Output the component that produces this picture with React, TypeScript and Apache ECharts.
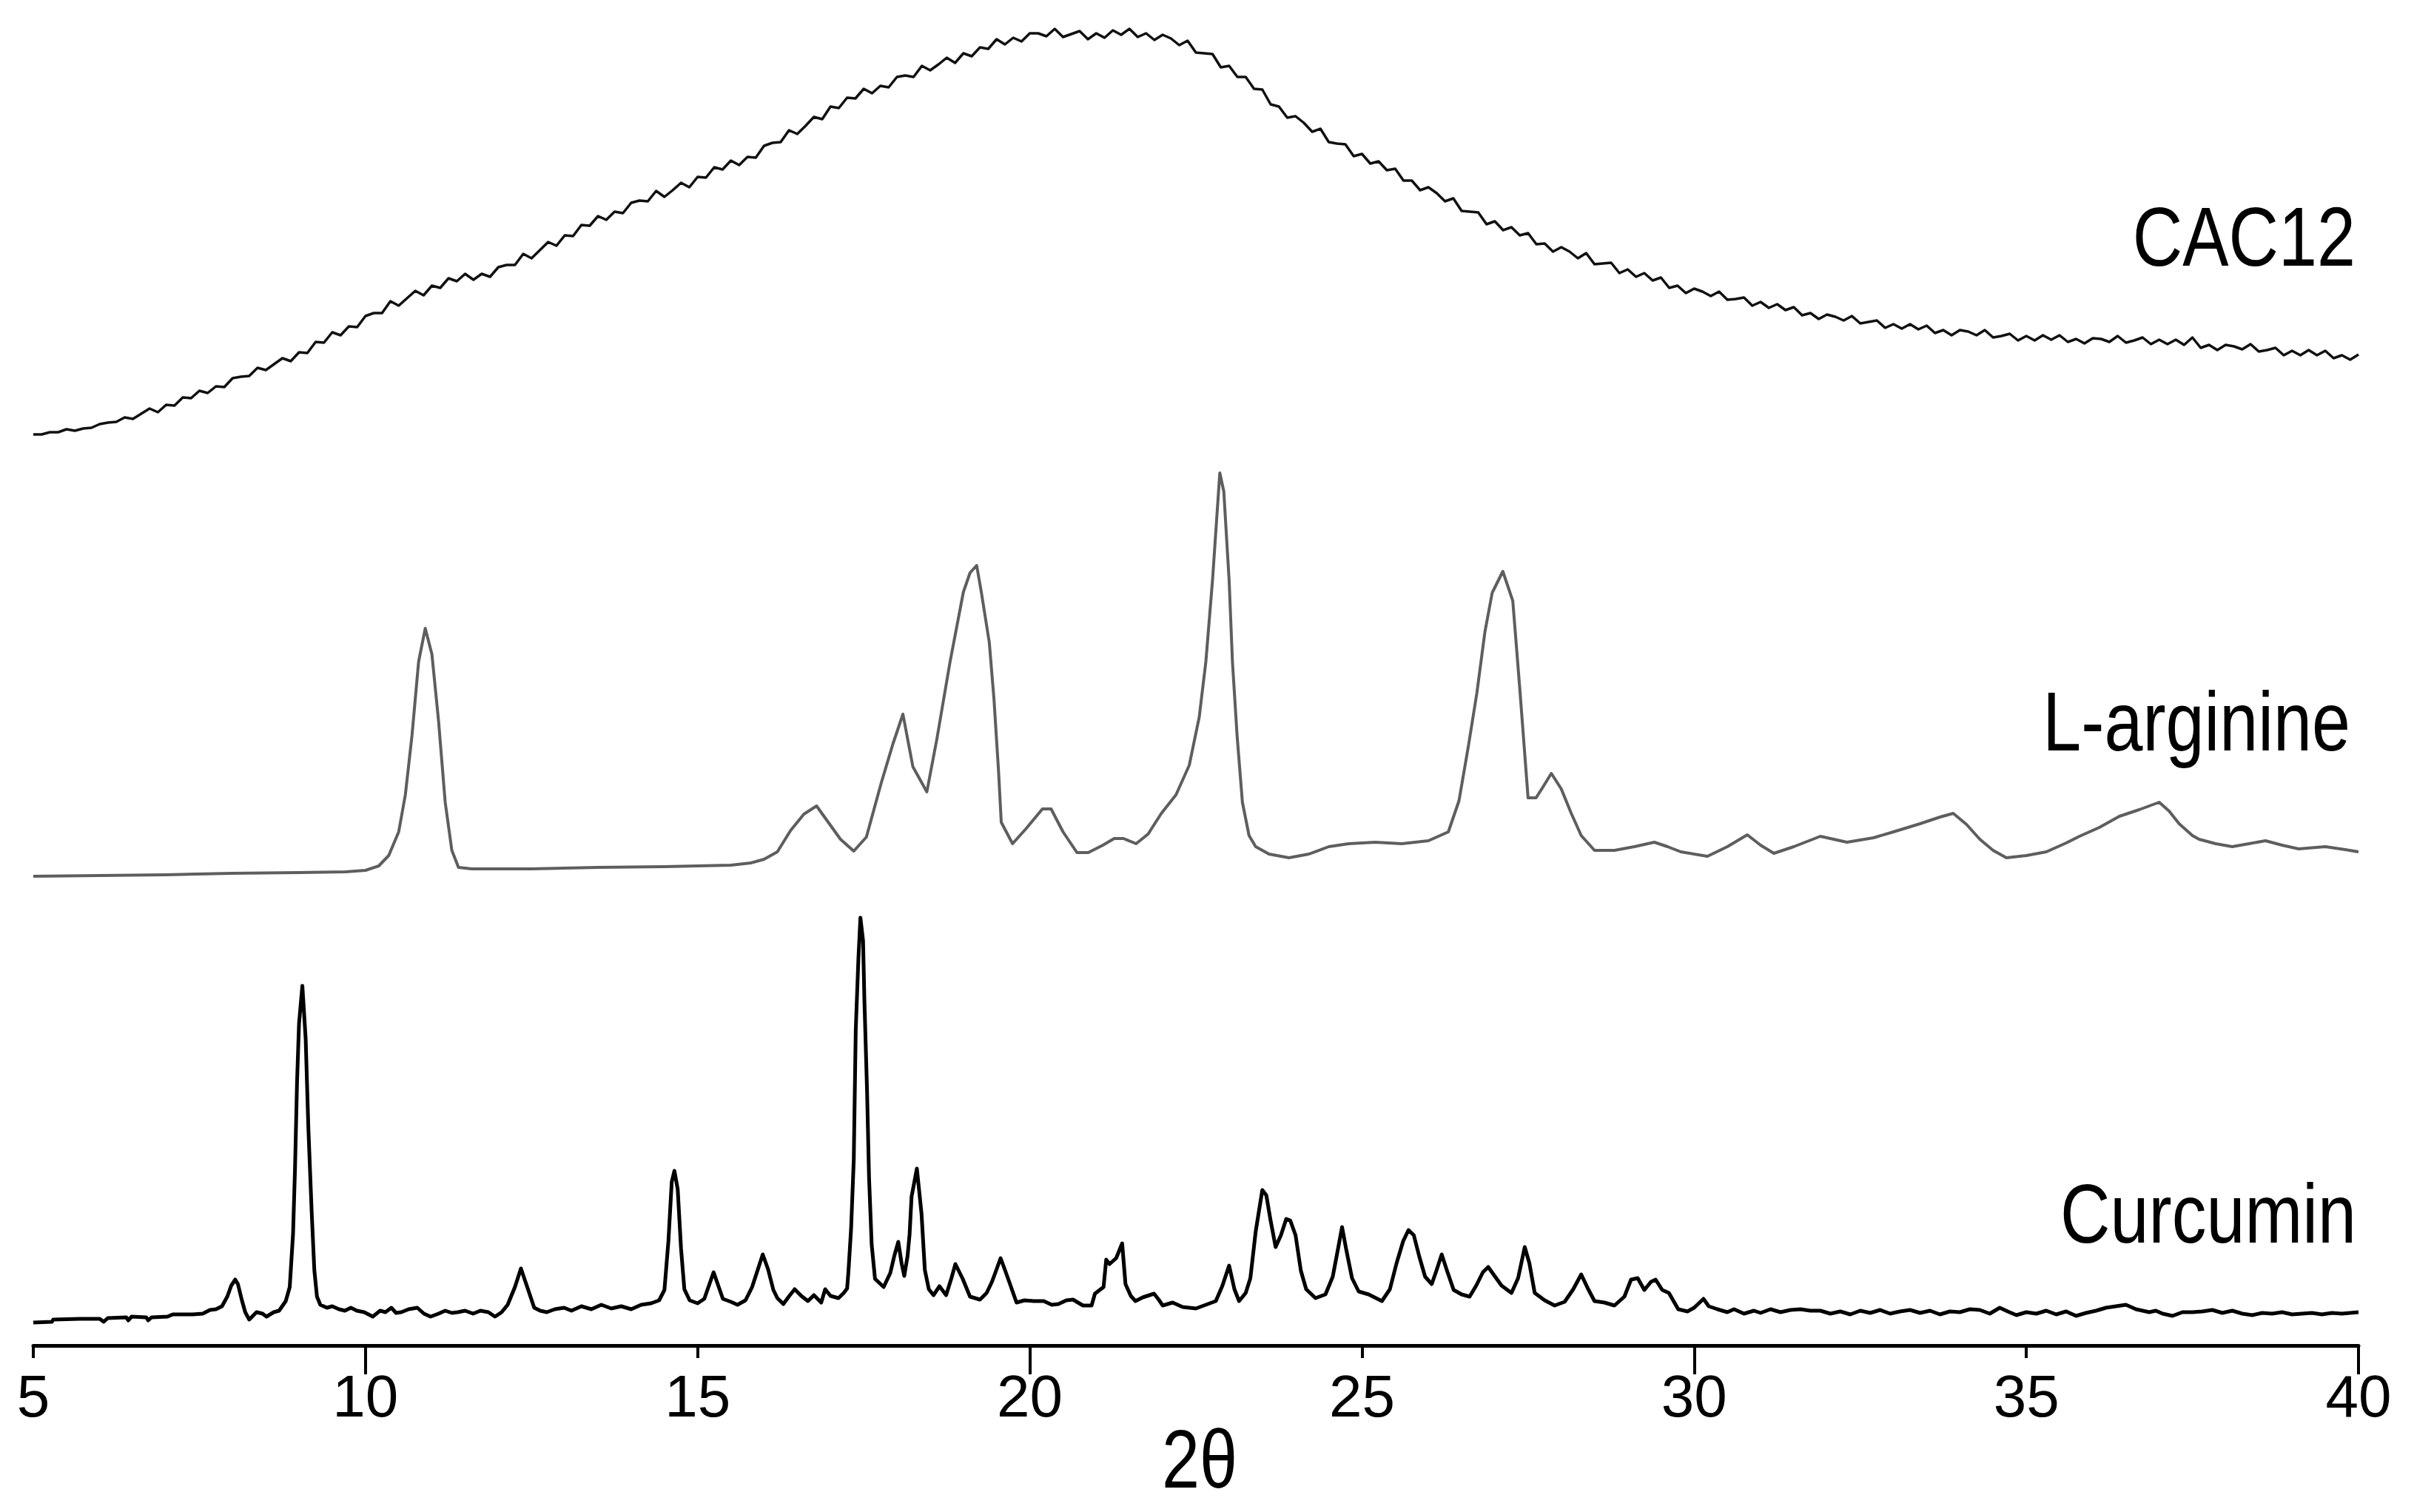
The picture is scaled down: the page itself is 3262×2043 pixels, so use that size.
import React, { useEffect, useRef } from "react";
import * as echarts from "echarts";

// 2θ (degrees) vs intensity (a.u.)
const CAC12: [number, number][] = [
  [5.0, 0], [5.125, 0], [5.25, 3], [5.375, 3], [5.5, 7], [5.625, 5], [5.75, 8], [5.875, 9],
  [6.0, 14], [6.125, 16], [6.25, 17], [6.375, 23], [6.5, 21], [6.625, 28], [6.75, 35], [6.875, 30],
  [7.0, 40], [7.125, 39], [7.25, 50], [7.375, 49], [7.5, 59], [7.625, 56], [7.75, 65], [7.875, 64],
  [8.0, 76], [8.125, 78], [8.25, 79], [8.375, 90], [8.5, 87], [8.625, 95], [8.75, 103], [8.875, 99],
  [9.0, 111], [9.125, 110], [9.25, 125], [9.375, 124], [9.5, 138], [9.625, 134], [9.75, 146], [9.875, 145],
  [10.0, 160], [10.125, 164], [10.25, 164], [10.375, 180], [10.5, 174], [10.625, 184], [10.75, 194], [10.875, 188],
  [11.0, 201], [11.125, 198], [11.25, 211], [11.375, 207], [11.5, 217], [11.625, 209], [11.75, 217], [11.875, 213],
  [12.0, 226], [12.125, 229], [12.25, 229], [12.375, 244], [12.5, 238], [12.625, 249], [12.75, 260], [12.875, 255],
  [13.0, 269], [13.125, 268], [13.25, 283], [13.375, 282], [13.5, 295], [13.625, 290], [13.75, 301], [13.875, 299],
  [14.0, 313], [14.125, 316], [14.25, 315], [14.375, 329], [14.5, 321], [14.625, 330], [14.75, 340], [14.875, 334],
  [15.0, 348], [15.125, 347], [15.25, 361], [15.375, 358], [15.5, 370], [15.625, 364], [15.75, 375], [15.875, 374],
  [16.0, 390], [16.125, 394], [16.25, 395], [16.375, 411], [16.5, 406], [16.625, 417], [16.75, 429], [16.875, 426],
  [17.0, 443], [17.125, 441], [17.25, 455], [17.375, 454], [17.5, 467], [17.625, 461], [17.75, 471], [17.875, 469],
  [18.0, 483], [18.125, 485], [18.25, 483], [18.375, 498], [18.5, 492], [18.625, 500], [18.75, 509], [18.875, 502],
  [19.0, 515], [19.125, 511], [19.25, 523], [19.375, 521], [19.5, 534], [19.625, 527], [19.75, 536], [19.875, 531],
  [20.0, 542], [20.125, 542], [20.25, 538], [20.375, 548], [20.5, 537], [20.625, 541], [20.75, 545], [20.875, 534],
  [21.0, 542], [21.125, 536], [21.25, 546], [21.375, 540], [21.5, 548], [21.625, 537], [21.75, 542], [21.875, 533],
  [22.0, 540], [22.125, 535], [22.25, 526], [22.375, 532], [22.5, 516], [22.625, 515], [22.75, 514], [22.875, 496],
  [23.0, 498], [23.125, 483], [23.25, 483], [23.375, 467], [23.5, 466], [23.625, 446], [23.75, 443], [23.875, 428],
  [24.0, 430], [24.125, 421], [24.25, 409], [24.375, 413], [24.5, 395], [24.625, 393], [24.75, 392], [24.875, 376],
  [25.0, 379], [25.125, 366], [25.25, 369], [25.375, 357], [25.5, 359], [25.625, 343], [25.75, 343], [25.875, 330],
  [26.0, 334], [26.125, 326], [26.25, 315], [26.375, 319], [26.5, 302], [26.625, 301], [26.75, 300], [26.875, 284],
  [27.0, 288], [27.125, 276], [27.25, 280], [27.375, 269], [27.5, 272], [27.625, 257], [27.75, 258], [27.875, 247],
  [28.0, 253], [28.125, 247], [28.25, 238], [28.375, 245], [28.5, 230], [28.625, 231], [28.75, 232], [28.875, 218],
  [29.0, 223], [29.125, 213], [29.25, 218], [29.375, 208], [29.5, 212], [29.625, 198], [29.75, 201], [29.875, 191],
  [30.0, 197], [30.125, 193], [30.25, 187], [30.375, 193], [30.5, 182], [30.625, 183], [30.75, 185], [30.875, 174],
  [31.0, 179], [31.125, 171], [31.25, 176], [31.375, 168], [31.5, 172], [31.625, 161], [31.75, 164], [31.875, 156],
  [32.0, 162], [32.125, 159], [32.25, 154], [32.375, 160], [32.5, 150], [32.625, 152], [32.75, 154], [32.875, 144],
  [33.0, 149], [33.125, 143], [33.25, 149], [33.375, 142], [33.5, 147], [33.625, 137], [33.75, 141], [33.875, 134],
  [34.0, 141], [34.125, 139], [34.25, 134], [34.375, 141], [34.5, 131], [34.625, 133], [34.75, 136], [34.875, 127],
  [35.0, 133], [35.125, 127], [35.25, 134], [35.375, 128], [35.5, 134], [35.625, 125], [35.75, 129], [35.875, 123],
  [36.0, 130], [36.125, 129], [36.25, 125], [36.375, 133], [36.5, 124], [36.625, 127], [36.75, 131], [36.875, 122],
  [37.0, 128], [37.125, 122], [37.25, 128], [37.375, 121], [37.5, 131], [37.625, 117], [37.75, 121], [37.875, 114],
  [38.0, 121], [38.125, 119], [38.25, 115], [38.375, 122], [38.5, 112], [38.625, 114], [38.75, 117], [38.875, 107],
  [39.0, 113], [39.125, 107], [39.25, 114], [39.375, 107], [39.5, 113], [39.625, 103], [39.75, 107], [39.875, 101],
  [40.0, 108],
];

const ARGININE: [number, number][] = [
  [5.0, 0], [6.0, 1], [7.0, 2], [8.0, 4], [9.0, 5], [9.7, 6], [10.0, 8], [10.2, 14], [10.35, 28],
  [10.5, 60], [10.6, 110], [10.7, 190], [10.8, 290], [10.9, 335], [11.0, 300], [11.1, 210], [11.2, 100],
  [11.3, 35], [11.4, 12], [11.6, 10], [12.5, 10], [13.5, 12], [14.5, 13], [15.5, 15], [15.8, 18],
  [16.0, 23], [16.2, 33], [16.4, 62], [16.6, 84], [16.79, 95], [16.95, 75], [17.15, 50], [17.35, 34],
  [17.54, 53], [17.76, 125], [17.94, 179], [18.09, 219], [18.24, 148], [18.45, 114], [18.6, 185],
  [18.8, 290], [19.0, 384], [19.1, 410], [19.2, 420], [19.27, 384], [19.39, 316], [19.46, 240],
  [19.53, 141], [19.57, 73], [19.74, 44], [19.95, 65], [20.19, 91], [20.32, 91], [20.5, 60],
  [20.71, 32], [20.88, 32], [21.1, 42], [21.27, 51], [21.41, 51], [21.6, 44], [21.78, 57], [21.98, 85],
  [22.2, 110], [22.4, 150], [22.55, 215], [22.65, 290], [22.75, 400], [22.86, 545], [22.92, 520],
  [23.0, 400], [23.05, 290], [23.12, 190], [23.2, 100], [23.3, 55], [23.4, 40], [23.6, 30], [23.9, 25],
  [24.2, 30], [24.5, 40], [24.8, 44], [25.2, 46], [25.6, 44], [26.0, 48], [26.3, 60], [26.46, 102],
  [26.6, 175], [26.73, 248], [26.85, 330], [26.96, 383], [27.12, 412], [27.27, 372], [27.38, 248],
  [27.5, 106], [27.62, 106], [27.72, 120], [27.85, 139], [28.0, 118], [28.15, 85], [28.3, 55],
  [28.5, 35], [28.8, 35], [29.1, 40], [29.4, 46], [29.6, 40], [29.8, 33], [30.2, 27], [30.5, 40],
  [30.8, 56], [31.0, 42], [31.2, 31], [31.5, 40], [31.9, 54], [32.3, 46], [32.7, 52], [33.0, 60],
  [33.4, 71], [33.7, 80], [33.9, 85], [34.1, 70], [34.3, 50], [34.5, 35], [34.7, 25], [35.0, 28],
  [35.3, 33], [35.6, 45], [35.8, 54], [36.1, 66], [36.4, 81], [36.7, 90], [37.0, 100], [37.15, 88],
  [37.3, 71], [37.5, 55], [37.6, 50], [37.85, 44], [38.1, 40], [38.35, 44], [38.6, 48], [38.85, 42],
  [39.1, 37], [39.5, 40], [39.8, 36], [40.0, 33],
];

const CURCUMIN: [number, number][] = [
  [5.0, 0], [5.28, 1], [5.3, 4], [5.7, 5], [6.0, 5], [6.06, 1], [6.12, 6], [6.4, 7], [6.43, 3],
  [6.48, 8], [6.7, 7], [6.73, 3], [6.78, 7], [7.02, 8], [7.1, 11], [7.4, 11], [7.55, 12], [7.66, 17],
  [7.75, 18], [7.84, 22], [7.92, 35], [7.98, 50], [8.04, 58], [8.08, 52], [8.14, 30], [8.19, 14],
  [8.25, 4], [8.36, 14], [8.45, 12], [8.51, 8], [8.62, 14], [8.7, 16], [8.8, 29], [8.86, 48],
  [8.91, 120], [8.94, 210], [8.97, 325], [9.0, 404], [9.05, 455], [9.1, 383], [9.14, 264], [9.19, 150],
  [9.23, 71], [9.27, 35], [9.32, 24], [9.42, 20], [9.5, 22], [9.6, 18], [9.69, 16], [9.78, 20],
  [9.87, 16], [9.98, 14], [10.11, 8], [10.22, 16], [10.3, 14], [10.39, 20], [10.46, 13], [10.54, 14],
  [10.65, 18], [10.78, 20], [10.88, 12], [10.98, 8], [11.1, 12], [11.2, 16], [11.3, 13], [11.39, 14],
  [11.5, 16], [11.62, 12], [11.73, 16], [11.85, 14], [11.95, 8], [12.05, 14], [12.14, 24], [12.25, 48],
  [12.34, 73], [12.45, 44], [12.54, 20], [12.63, 16], [12.73, 14], [12.85, 18], [12.99, 20], [13.1, 16],
  [13.25, 22], [13.4, 18], [13.55, 24], [13.7, 19], [13.85, 22], [14.0, 18], [14.15, 24], [14.3, 26],
  [14.42, 30], [14.5, 44], [14.56, 110], [14.61, 190], [14.65, 205], [14.7, 180], [14.75, 100],
  [14.8, 45], [14.88, 30], [15.0, 26], [15.1, 32], [15.17, 50], [15.24, 68], [15.31, 50], [15.38, 32],
  [15.5, 28], [15.6, 24], [15.72, 30], [15.82, 48], [15.9, 70], [15.98, 92], [16.06, 72], [16.14, 44],
  [16.2, 33], [16.29, 25], [16.38, 36], [16.46, 45], [16.56, 36], [16.66, 29], [16.75, 37], [16.86, 27],
  [16.92, 45], [17.0, 36], [17.12, 33], [17.2, 40], [17.25, 46], [17.27, 69], [17.31, 127], [17.35, 220],
  [17.38, 396], [17.42, 492], [17.45, 547], [17.49, 516], [17.51, 436], [17.55, 313], [17.58, 196],
  [17.62, 105], [17.67, 59], [17.8, 48], [17.9, 67], [17.96, 90], [18.02, 109], [18.07, 80], [18.11, 63],
  [18.16, 90], [18.19, 119], [18.22, 170], [18.3, 208], [18.37, 147], [18.42, 71], [18.48, 45],
  [18.55, 37], [18.64, 49], [18.74, 37], [18.82, 60], [18.88, 79], [18.99, 59], [19.1, 35], [19.25, 31],
  [19.35, 40], [19.43, 55], [19.5, 72], [19.56, 87], [19.63, 70], [19.69, 55], [19.8, 27], [19.92, 30],
  [20.06, 29], [20.21, 29], [20.33, 24], [20.43, 25], [20.55, 30], [20.65, 31], [20.8, 23], [20.93, 23],
  [20.98, 39], [21.11, 48], [21.15, 85], [21.2, 79], [21.3, 87], [21.39, 107], [21.44, 52], [21.52, 36],
  [21.59, 29], [21.7, 34], [21.87, 39], [21.94, 31], [22.0, 23], [22.15, 27], [22.3, 21], [22.5, 19],
  [22.65, 24], [22.8, 29], [22.9, 50], [23.0, 77], [23.08, 45], [23.15, 29], [23.25, 40], [23.32, 60],
  [23.4, 123], [23.5, 179], [23.56, 172], [23.62, 140], [23.7, 102], [23.78, 118], [23.86, 140],
  [23.92, 138], [24.0, 118], [24.08, 70], [24.16, 45], [24.3, 33], [24.45, 38], [24.56, 62], [24.64, 100],
  [24.7, 129], [24.76, 100], [24.85, 60], [24.95, 42], [25.1, 38], [25.3, 29], [25.42, 45], [25.52, 80],
  [25.62, 110], [25.7, 125], [25.78, 118], [25.86, 90], [25.95, 62], [26.05, 52], [26.12, 70], [26.2, 92],
  [26.28, 70], [26.38, 44], [26.5, 38], [26.62, 35], [26.72, 50], [26.82, 68], [26.9, 75], [26.98, 65],
  [27.1, 50], [27.25, 40], [27.35, 60], [27.45, 102], [27.52, 80], [27.6, 40], [27.75, 30], [27.9, 23],
  [28.05, 28], [28.18, 45], [28.3, 65], [28.4, 46], [28.5, 29], [28.65, 27], [28.8, 23], [28.95, 35],
  [29.05, 58], [29.15, 60], [29.25, 44], [29.35, 55], [29.42, 58], [29.52, 44], [29.62, 40], [29.76, 18],
  [29.9, 15], [30.0, 20], [30.14, 32], [30.22, 22], [30.35, 18], [30.5, 14], [30.6, 18], [30.75, 12],
  [30.9, 16], [31.0, 13], [31.15, 18], [31.3, 14], [31.45, 17], [31.6, 18], [31.75, 16], [31.9, 16],
  [32.05, 12], [32.2, 15], [32.35, 11], [32.5, 16], [32.65, 13], [32.8, 17], [32.95, 12], [33.1, 15],
  [33.25, 17], [33.4, 13], [33.55, 16], [33.7, 11], [33.85, 15], [34.0, 14], [34.15, 18], [34.3, 17],
  [34.45, 12], [34.6, 20], [34.72, 15], [34.85, 10], [35.0, 14], [35.15, 12], [35.3, 16], [35.45, 11],
  [35.6, 15], [35.75, 9], [35.9, 13], [36.05, 16], [36.2, 20], [36.35, 22], [36.5, 24], [36.65, 18],
  [36.75, 16], [36.85, 14], [36.95, 16], [37.05, 12], [37.2, 9], [37.35, 14], [37.5, 14], [37.65, 15],
  [37.8, 17], [37.95, 13], [38.1, 16], [38.25, 12], [38.4, 10], [38.55, 13], [38.7, 12], [38.85, 14],
  [39.0, 11], [39.15, 12], [39.3, 13], [39.45, 11], [39.6, 13], [39.75, 12], [40.0, 14],
];

// vertical stacking offsets of the three patterns (a.u.)
const OFFSET_CAC12 = 1231;
const OFFSET_ARGININE = 634;
const OFFSET_CURCUMIN = 31;

const SERIES_NAMES = ["CAC12", "L-arginine", "Curcumin"];
const X_TICK_MAJOR = [10, 20, 30, 40];
const X_AXIS_NAME = "2θ";

const FONT = "'Liberation Sans', Arial, sans-serif";
const NARROW = 0.82; // Arial Narrow look

function shift(data: [number, number][], off: number) {
  return data.map(([x, y]) => [x, y + off]);
}

export default function App() {
  const ref = useRef<HTMLDivElement>(null);
  useEffect(() => {
    document.body.style.margin = "0";
    const chart = echarts.init(ref.current!, null, { renderer: "svg" });
    const lineCommon = { type: "line", showSymbol: false, smooth: false, clip: false, silent: true };
    const label = (text: string, x: number, y: number, size: number, align: string) => ({
      type: "text", x, y, scaleX: NARROW, scaleY: 1,
      style: { text, fontSize: size, fontFamily: FONT, fill: "#000", align, verticalAlign: "middle" },
    });
    chart.setOption({
      animation: false,
      backgroundColor: "#ffffff",
      grid: { left: 45, right: 75, top: 18, bottom: 225, containLabel: false },
      xAxis: [
        {
          type: "value", min: 5, max: 40, interval: 5, position: "bottom",
          axisLine: { onZero: false, lineStyle: { color: "#000", width: 5 } },
          axisTick: { length: 17, lineStyle: { color: "#000", width: 4 } },
          axisLabel: { fontSize: 80, fontFamily: FONT, color: "#000", margin: 28 },
          splitLine: { show: false },
        },
        {
          type: "value", min: 5, max: 40, position: "bottom",
          axisLine: { show: false, onZero: false },
          axisTick: { show: true, length: 39, customValues: X_TICK_MAJOR, lineStyle: { color: "#000", width: 4 } },
          axisLabel: { show: false },
          splitLine: { show: false },
        },
      ],
      yAxis: { type: "value", min: 0, max: 1800, show: false },
      series: [
        { ...lineCommon, name: SERIES_NAMES[0], data: shift(CAC12, OFFSET_CAC12), lineStyle: { color: "#111", width: 3.5, join: "round" } },
        { ...lineCommon, name: SERIES_NAMES[1], data: shift(ARGININE, OFFSET_ARGININE), lineStyle: { color: "#5e5e5e", width: 4, join: "round" } },
        { ...lineCommon, name: SERIES_NAMES[2], data: shift(CURCUMIN, OFFSET_CURCUMIN), lineStyle: { color: "#000", width: 5, join: "round" } },
      ],
      graphic: [
        label(SERIES_NAMES[0], 3183, 320, 114, "right"),
        label(SERIES_NAMES[1], 3176, 975, 114, "right"),
        label(SERIES_NAMES[2], 3184, 1640, 114, "right"),
        label(X_AXIS_NAME, 1621, 1971, 112, "center"),
      ],
    });
    return () => chart.dispose();
  }, []);
  return <div ref={ref} style={{ width: 3262, height: 2043, background: "#fff" }} />;
}
